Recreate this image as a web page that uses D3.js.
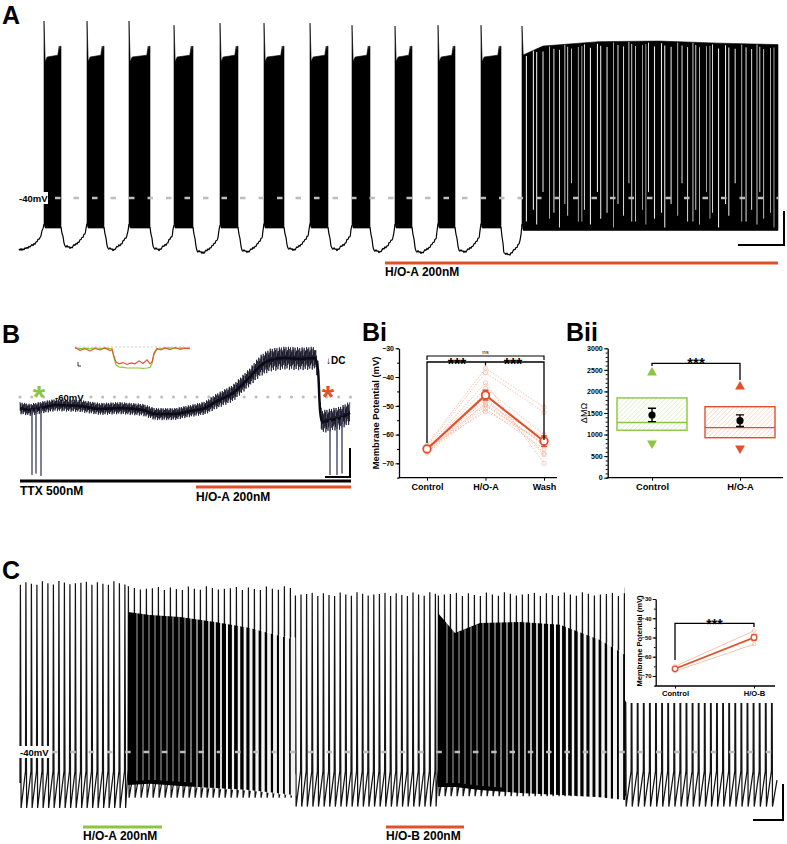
<!DOCTYPE html>
<html>
<head>
<meta charset="utf-8">
<script src="https://cdn.jsdelivr.net/npm/d3@7"></script>
<style>
  body { margin: 0; background: #fff; }
  svg { display: block; }
</style>
</head>
<body>
<svg id="fig" width="787" height="844"></svg>
<script>
// ---------------- data ----------------
// Panel A: bursting then tonic firing (time in s, voltage in mV)
const aBurstOn   = [12.5, 34, 55, 77.5, 100.5, 122.5, 145.5, 166.5, 188, 209.5, 231];
const aBurstOff  = [21, 42.5, 65.5, 87, 109.5, 132.5, 154.5, 175.5, 196.5, 218, 241];
const aBurstPeak = [20, 20, 20, 18.6, 19.3, 19.3, 19.3, 18.6, 18.3, 18.6, 18.6];
const aGapMin    = [-57.6, -56.9, -57.6, -57.6, -58.6, -58.3, -57.6, -57.6, -58.3, -58.6, -58.3, -59.3];
const aTonicT    = [251.5, 262, 290, 320, 350, 379.5];
const aTonicTop  = [7.5, 9.5, 11, 11.2, 10.5, 10];
const aTonicPeak = 18.3;
const aPlateau = 7.8, aEndSpike = 11.5, aTrough = -50.2, aOnsetV = -49, aTonicTrough = -51;

// Panel B: TTX trace
const bT     = [0, 10, 25, 35, 60, 80, 100, 123, 135, 155, 170, 185, 195, 213, 230, 240, 250, 265, 280, 295, 298, 300, 302, 310, 320, 330];
const bV     = [-63.7, -64.3, -63.3, -62.7, -63, -64, -63.7, -64.3, -65.7, -65.7, -64.7, -63.7, -61.7, -58.7, -53.3, -49.7, -47.7, -47, -47.3, -47, -51, -64.3, -68.3, -67.7, -67, -65.3];
const bNoise = [2, 2, 2, 2, 2, 2, 2, 2, 2, 2, 2, 2.2, 2.5, 2.8, 3, 3.5, 3.8, 3.8, 3.8, 3.8, 3, 3, 3.8, 3.8, 3.8, 3.8];
const bSpikeT = [12, 16, 21, 310, 317, 322];
const bSpikeV = [-86, -85.5, -86.3, -86, -86, -85.5];
// Panel B inset (ms, mV relative)
const bInsT     = [0, 5, 10, 15, 20, 25, 30, 35, 37, 39, 41, 44, 48, 52, 56, 60, 64, 68, 72, 75, 77, 79, 82, 86, 90, 95, 100, 105, 110, 115];
const bInsGreen = [-0.3, -0.5, -0.4, -0.6, -0.3, -0.5, -0.4, -0.5, -0.6, -3.5, -6.0, -6.6, -6.8, -7, -7, -7, -7, -7.1, -7, -6.8, -5.5, -2.5, -0.8, -0.5, -0.4, -0.3, -0.5, -0.3, -0.4, -0.3];
const bInsRed   = [-0.2, -1.1, -0.6, -1.3, -0.5, -1.0, -0.3, -1.2, -0.8, -3.2, -5.0, -5.6, -5.2, -5.8, -5.3, -5.6, -4.6, -5.5, -4.3, -5.6, -5.0, -2.0, -0.5, -1.0, -0.3, -0.9, -0.2, -0.8, -0.4, -0.6];

// Panel Bi: membrane potential (mV), one entry per cell
const biCats = ["Control", "H/O-A", "Wash"];
const biControl = [-63.5, -64, -64.5, -65, -65, -65.5, -65.5, -66, -66, -66.5, -64.8, -65.2];
const biHOA     = [-37, -38.5, -42, -44, -45.5, -47, -48, -49, -50, -51, -52, -49.5];
const biWash    = [-50.5, -52.3, -70, -60, -66.5, -67, -64, -61, -63, -65, -62, -63.5];
const biMean = [-65, -46.3, -62.3];
const biSem  = [0.6, 1.7, 1.8];

// Panel Bii: delta input resistance (MOhm)
const biiCats   = ["Control", "H/O-A"];
const biiQ1     = [1100, 927];
const biiQ3     = [1850, 1646];
const biiMedian = [1280, 1160];
const biiMean   = [1454, 1322];
const biiSem    = [155, 135];
const biiMax    = [2435, 2110];
const biiMin    = [797, 681];

// Panel C: tonic firing, segments (time in s, voltage in mV)
const cSegStart = [0, 54, 137.5, 209, 302.5];
const cSegEnd   = [54, 137.5, 209, 302.5, 378.5];
const cSegIsi   = [2.75, 3.0, 2.8, 3.0, 3.05];
const cSegPeak  = [18.3, 16.5, 14.5, 14.5, 17];
const cSegRamp  = [-46.5, -46, -46.5, -46, -46.5];
const cSegTrough = [-59, -55.5, -58.5, -55, -58.5];
// dense firing envelopes (top / bottom in mV, fraction of black between spikes)
const cBand1T    = [54, 65, 80, 97.5, 115, 137.5];
const cBand1Top  = [7.5, 6.4, 5.8, 4.1, 2.0, -2.0];
const cBand1Bot  = [-51.2, -50.8, -51.5, -52.2, -52.9, -54.6];
const cBand1Dens = [1, 1, 1, 0.85, 0.6, 0.35];
const cBand2T    = [209, 217.5, 230, 250, 270, 290, 302.5];
const cBand2Top  = [7.1, 0.3, 3.7, 4.1, 3.1, -2.0, -7.1];
const cBand2Bot  = [-51.9, -51.9, -52.9, -53.9, -54.6, -55.3, -56.3];
const cBand2Dens = [1, 1, 1, 0.9, 0.75, 0.55, 0.35];
// Panel C inset
const ciCats    = ["Control", "H/O-B"];
const ciControl = [-65, -66.5, -67.5];
const ciHOB     = [-46.5, -50.4, -53.5];
const ciMean    = [-66.3, -50];
const ciSem     = [0.6, 1.6];

// ---------------- drawing ----------------
const FONT = "'Liberation Sans', Arial, Helvetica, sans-serif";
const RED = "#e2502b", RED_LT = "#f5b59c", GREEN = "#8cc63f", GREEN_LT = "#c3e19b", GREY = "#bdbdbd";

const svg = d3.select("#fig").attr("font-family", FONT);
const defs = svg.append("defs");

function hatch(id, color) {
  const p = defs.append("pattern").attr("id", id)
    .attr("patternUnits", "userSpaceOnUse")
    .attr("width", 3.2).attr("height", 3.2)
    .attr("patternTransform", "rotate(45)");
  p.append("line").attr("x1", 0).attr("y1", 0).attr("x2", 0).attr("y2", 3.2)
    .attr("stroke", color).attr("stroke-width", 0.8);
}
hatch("hatchG", GREEN_LT);
hatch("hatchR", RED_LT);

function label(g, txt, x, y, size, opts = {}) {
  return g.append("text").attr("x", x).attr("y", y).text(txt)
    .attr("font-size", size).attr("font-weight", opts.weight || "bold")
    .attr("fill", opts.fill || "#000")
    .attr("text-anchor", opts.anchor || "start");
}

function bar(g, x1, x2, y, color) {
  g.append("line").attr("x1", x1).attr("x2", x2).attr("y1", y).attr("y2", y)
    .attr("stroke", color).attr("stroke-width", 3);
}

function scaleBar(g, xl, xr, yt, yb) {
  g.append("path").attr("d", `M${xl},${yb}H${xr}V${yt}`)
    .attr("fill", "none").attr("stroke", "#000").attr("stroke-width", 2);
}

// irregular texture used for recording noise / spike gaps (not data)
const jitter = [1, -0.45, 0.8, -1, 0.25, -0.7, 0.95, -0.2, 0.55, -0.9, 0.7, -0.6, 0.35];

// ====== Panel A ======
const gA = svg.append("g");
const xA = d3.scaleLinear().domain([0, 380]).range([19, 779]);
const yA = d3.scaleLinear().domain([-60, 20]).range([257, 21]);

label(gA, "A", 2, 24, 25);

const smooth = d3.line().x(d => xA(d[0])).y(d => yA(d[1])).curve(d3.curveMonotoneX);
const straightA = d3.line().x(d => xA(d[0])).y(d => yA(d[1]));

const aGaps = [];
const m0 = aGapMin[0];
aGaps.push([[0, m0], [3, m0 + 0.4], [7, m0 + 1.6], [10.5, m0 + 4], [aBurstOn[0], aOnsetV]]);
aBurstOff.forEach((off, i) => {
  const next = i + 1 < aBurstOn.length ? aBurstOn[i + 1] : aTonicT[0];
  const L = next - off, m = aGapMin[i + 1];
  aGaps.push([[off, aTrough], [off + 0.15 * L, m + 0.6], [off + 0.4 * L, m],
              [off + 0.72 * L, m + 2.3], [off + 0.92 * L, m + 4.8], [next, aOnsetV]]);
});
// thin noisy interburst trace
aGaps.forEach(pts => {
  const T = pts.map(p => p[0]), V = pts.map(p => p[1]);
  const f = d3.scaleLinear().domain(T).range(V);
  const ts = d3.range(T[0], T[T.length - 1], 0.5).concat([T[T.length - 1]]);
  const noisy = ts.map((t, k) => [t, f(t) + 0.35 * jitter[k % jitter.length]]);
  gA.append("path").attr("d", smooth(noisy)).attr("fill", "none").attr("stroke", "#000").attr("stroke-width", 1.2);
});

const aBursts = aBurstOn.map((on, i) => {
  const off = aBurstOff[i];
  return [[on, aOnsetV], [on, aBurstPeak[i]], [on + 0.6, aPlateau - 1.5], [on + 1.6, aPlateau],
          [off - 1.6, aPlateau + 0.6], [off - 0.9, aEndSpike], [off - 0.5, aEndSpike - 1.5],
          [off - 0.2, aEndSpike], [off, aEndSpike], [off, aTrough], [on + 0.6, aTrough]];
});
gA.selectAll(".burst").data(aBursts).enter().append("path")
  .attr("d", d => straightA(d) + "Z").attr("fill", "#000").attr("stroke", "#000").attr("stroke-width", 0.6);

// tonic firing block
const aTop = d3.scaleLinear().domain(aTonicT).range(aTonicTop);
const t0 = aTonicT[0], t1 = aTonicT[aTonicT.length - 1];
const tonicPoly = [[t0, aOnsetV], [t0, aTonicPeak], [t0 + 0.6, aTonicTop[0] + 1]]
  .concat(aTonicT.slice(1).map((t, i) => [t, aTonicTop[i + 1] + 2]))
  .concat([[t1, aTonicTrough], [t0 + 0.6, aTonicTrough]]);
gA.append("path").attr("d", straightA(tonicPoly) + "Z").attr("fill", "#000").attr("stroke", "#000").attr("stroke-width", 0.6);

// white gaps between the tonic spikes (irregular texture)
const aLowEnds = [-48, -44, -49, -38, -47, -45, -50, -42, -46, -35, -48];
const aTonicGaps = [];
for (let t = t0 + 2.2, k = 0; t < t1 - 0.8; k++) {
  aTonicGaps.push(t);
  t += 2.4 + 1.1 * jitter[(k * 5) % jitter.length];
}
gA.selectAll(".tgap").data(aTonicGaps).enter().append("line")
  .attr("x1", d => xA(d)).attr("x2", d => xA(d))
  .attr("y1", (d, i) => yA(aTop(d) + 2.2 - 2 * Math.abs(jitter[i % jitter.length])))
  .attr("y2", (d, i) => yA(aLowEnds[i % aLowEnds.length]))
  .attr("stroke", "#fff")
  .attr("stroke-width", (d, i) => 0.6 + 0.5 * Math.abs(jitter[(i * 3) % jitter.length]))
  .attr("opacity", 0.9);

gA.append("line").attr("x1", 55).attr("x2", 778).attr("y1", yA(-40)).attr("y2", yA(-40))
  .attr("stroke", GREY).attr("stroke-width", 2.5).attr("stroke-dasharray", "5.5,13");
gA.append("rect").attr("x", 17).attr("y", yA(-40) - 6).attr("width", 31).attr("height", 12).attr("fill", "#fff");
label(gA, "-40mV", 19, yA(-40) + 3.5, 9.5);

scaleBar(gA, 738, 784, 211, 245);
bar(gA, 385, 778, 263, RED);
label(gA, "H/O-A 200nM", 385, 276, 12);

// ====== Panel B ======
const gB = svg.append("g");
const xB = d3.scaleLinear().domain([0, 330]).range([20, 350]);
const yB = d3.scaleLinear().domain([-90, -40]).range([487, 337]);

label(gB, "B", 2, 343, 25);

gB.append("line").attr("x1", 20).attr("x2", 352).attr("y1", yB(-60)).attr("y2", yB(-60))
  .attr("stroke", GREY).attr("stroke-width", 3).attr("stroke-linecap", "round").attr("stroke-dasharray", "0.1,11.7");
gB.append("rect").attr("x", 53).attr("y", yB(-60) - 6).attr("width", 32).attr("height", 11).attr("fill", "#fff");
label(gB, "-60mV", 55, yB(-60) + 3.5, 9.5);

const bLevel = d3.scaleLinear().domain(bT).range(bV);
const bNz = d3.scaleLinear().domain(bT).range(bNoise);
const bSteps = d3.range(0, 330, 0.35);
let bPath = "";
bSteps.forEach((t, k) => {
  const v = bLevel(t) + bNz(t) * jitter[k % jitter.length];
  bPath += (k ? "L" : "M") + xB(t).toFixed(2) + "," + yB(v).toFixed(2);
});
gB.append("path").attr("d", bPath).attr("fill", "none").attr("stroke", "#16162a").attr("stroke-width", 0.8);
gB.append("path").datum(d3.range(bT.length))
  .attr("d", d3.line().x(i => xB(bT[i])).y(i => yB(bV[i])).curve(d3.curveMonotoneX))
  .attr("fill", "none").attr("stroke", "#0b0b14").attr("stroke-width", 2.5);

gB.selectAll(".bsp").data(bSpikeT).enter().append("path")
  .attr("d", (t, i) => `M${xB(t) - 0.3},${yB(bLevel(t))}L${xB(t)},${yB(bSpikeV[i])}L${xB(t) + 0.3},${yB(bLevel(t))}`)
  .attr("fill", "none").attr("stroke", "#4a4d63").attr("stroke-width", 0.9);

label(gB, "*", 39, 408, 32, { fill: GREEN, anchor: "middle" });
label(gB, "*", 328, 408, 32, { fill: RED, anchor: "middle" });
label(gB, "\u2193DC", 326, 364, 10);

scaleBar(gB, 325, 350, 448, 477);
bar(gB, 20, 351, 481, "#000");
bar(gB, 196, 351, 487, RED);
label(gB, "TTX 500nM", 20, 495, 12);
label(gB, "H/O-A 200nM", 196, 501, 12);

// B inset
const xI = d3.scaleLinear().domain([0, 115]).range([75, 190]);
const yI = d3.scaleLinear().domain([-8, 0]).range([371, 347]);
gB.append("line").attr("x1", 75).attr("x2", 190).attr("y1", yI(0)).attr("y2", yI(0))
  .attr("stroke", "#aaa").attr("stroke-width", 0.6).attr("stroke-dasharray", "2,2");
const insLine = vals => d3.line().x((d, i) => xI(bInsT[i])).y(d => yI(d))(vals);
gB.append("path").attr("d", insLine(bInsGreen)).attr("fill", "none").attr("stroke", GREEN).attr("stroke-width", 1.2);
gB.append("path").attr("d", insLine(bInsRed)).attr("fill", "none").attr("stroke", RED).attr("stroke-width", 1.1);
gB.append("path").attr("d", "M78,362V366H81").attr("fill", "none").attr("stroke", "#000").attr("stroke-width", 0.8);

// ====== Panel Bi ======
const gBi = svg.append("g");
label(gBi, "Bi", 362, 341, 25);
const yBi = d3.scaleLinear().domain([-75, -30]).range([477.7, 348.3]);
const xBi = d3.scalePoint().domain(biCats).range([427, 544]);

function styleAxis(g, fs) {
  g.attr("font-family", FONT).attr("font-size", fs).attr("font-weight", "bold");
  g.select(".domain").attr("stroke-width", 1.3);
  g.selectAll(".tick line").attr("stroke-width", 1);
}

gBi.append("g").attr("transform", "translate(399,0)")
  .call(d3.axisLeft(yBi).tickValues(d3.range(-75, -29, 5)).tickSize(2).tickFormat("").tickSizeOuter(0))
  .call(g => g.select(".domain").remove());
gBi.append("g").attr("transform", "translate(399,0)")
  .call(d3.axisLeft(yBi).tickValues([-70, -60, -50, -40, -30]).tickSize(3.5).tickPadding(1.5).tickSizeOuter(0))
  .call(g => styleAxis(g, 7));
gBi.append("line").attr("x1", 398.5).attr("x2", 557).attr("y1", 477.7).attr("y2", 477.7).attr("stroke", "#000").attr("stroke-width", 1.3);
gBi.append("g").attr("transform", "translate(0,477.7)")
  .call(d3.axisBottom(xBi).tickSize(3).tickPadding(3).tickSizeOuter(0))
  .call(g => { styleAxis(g, 9); g.select(".domain").remove(); });
label(gBi, "Membrane Potential (mV)", 0, 0, 9.4, { anchor: "middle" })
  .attr("transform", "translate(379,413) rotate(-90)");

const biCells = biControl.map((c, i) => [c, biHOA[i], biWash[i]]);
const biLine = d3.line().x((d, i) => xBi(biCats[i])).y(d => yBi(d));
gBi.selectAll(".cell").data(biCells).enter().append("path")
  .attr("d", biLine).attr("fill", "none").attr("stroke", RED_LT).attr("stroke-width", 0.8).attr("stroke-dasharray", "1.6,1.4");
biCells.forEach(cell => {
  gBi.selectAll(null).data(cell).enter().append("circle")
    .attr("cx", (d, i) => xBi(biCats[i])).attr("cy", d => yBi(d)).attr("r", 2.1)
    .attr("fill", "none").attr("stroke", RED_LT).attr("stroke-width", 0.7);
});
gBi.append("path").attr("d", biLine(biMean)).attr("fill", "none").attr("stroke", RED).attr("stroke-width", 2);
biMean.forEach((m, i) => {
  const x = xBi(biCats[i]);
  gBi.append("path").attr("d", `M${x - 3},${yBi(m + biSem[i])}H${x + 3}M${x},${yBi(m + biSem[i])}V${yBi(m - biSem[i])}M${x - 3},${yBi(m - biSem[i])}H${x + 3}`)
    .attr("stroke", RED).attr("stroke-width", 1.4).attr("fill", "none");
  gBi.append("circle").attr("cx", x).attr("cy", yBi(m)).attr("r", 3.8)
    .attr("fill", "#fff").attr("stroke", RED).attr("stroke-width", 1.8);
});
// significance brackets
gBi.append("path").attr("d", "M427,360V356H544V360").attr("fill", "none").attr("stroke", "#000").attr("stroke-width", 1.2);
gBi.append("path").attr("d", "M427,443V362H544V440M485.5,362V365.5").attr("fill", "none").attr("stroke", "#000").attr("stroke-width", 1.3);
label(gBi, "ns", 485.5, 354, 6, { weight: "normal", anchor: "middle" });
label(gBi, "***", 457, 370, 16, { anchor: "middle" });
label(gBi, "***", 513, 370, 16, { anchor: "middle" });

// ====== Panel Bii ======
const gBii = svg.append("g");
label(gBii, "Bii", 566, 341, 25);
const yBii = d3.scaleLinear().domain([0, 3000]).range([477.7, 348.3]);
const xBii = d3.scalePoint().domain(biiCats).range([652, 740]);

gBii.append("g").attr("transform", "translate(607.7,0)")
  .call(d3.axisLeft(yBii).tickValues(d3.range(0, 3001, 100)).tickSize(2).tickFormat("").tickSizeOuter(0))
  .call(g => g.select(".domain").remove());
gBii.append("g").attr("transform", "translate(607.7,0)")
  .call(d3.axisLeft(yBii).tickValues(d3.range(0, 3001, 500)).tickFormat(d3.format("d")).tickSize(3.5).tickPadding(1.5).tickSizeOuter(0))
  .call(g => styleAxis(g, 7));
gBii.append("line").attr("x1", 607.2).attr("x2", 783).attr("y1", 477.7).attr("y2", 477.7).attr("stroke", "#000").attr("stroke-width", 1.3);
gBii.append("g").attr("transform", "translate(0,477.7)")
  .call(d3.axisBottom(xBii).tickSize(3).tickPadding(3).tickSizeOuter(0))
  .call(g => { styleAxis(g, 9.3); g.select(".domain").remove(); });
label(gBii, "\u0394M\u03A9", 0, 0, 9, { weight: "normal", anchor: "middle" })
  .attr("transform", "translate(587,413) rotate(-90)");

const biiColor = [GREEN, RED], biiHatch = ["url(#hatchG)", "url(#hatchR)"];
biiCats.forEach((c, i) => {
  const x = xBii(c), w = 70;
  gBii.append("rect").attr("x", x - w / 2).attr("y", yBii(biiQ3[i]))
    .attr("width", w).attr("height", yBii(biiQ1[i]) - yBii(biiQ3[i]))
    .attr("fill", biiHatch[i]).attr("stroke", biiColor[i]).attr("stroke-width", 1.4);
  gBii.append("line").attr("x1", x - w / 2).attr("x2", x + w / 2)
    .attr("y1", yBii(biiMedian[i])).attr("y2", yBii(biiMedian[i]))
    .attr("stroke", biiColor[i]).attr("stroke-width", 1.4);
  gBii.append("path").attr("transform", `translate(${x},${yBii(biiMax[i])})`)
    .attr("d", d3.symbol(d3.symbolTriangle).size(42)()).attr("fill", biiColor[i]);
  gBii.append("path").attr("transform", `translate(${x},${yBii(biiMin[i])}) rotate(180)`)
    .attr("d", d3.symbol(d3.symbolTriangle).size(42)()).attr("fill", biiColor[i]);
  const hi = yBii(biiMean[i] + biiSem[i]), lo = yBii(biiMean[i] - biiSem[i]);
  gBii.append("path").attr("d", `M${x - 4},${hi}H${x + 4}M${x},${hi}V${lo}M${x - 4},${lo}H${x + 4}`)
    .attr("stroke", "#000").attr("stroke-width", 1.4).attr("fill", "none");
  gBii.append("circle").attr("cx", x).attr("cy", yBii(biiMean[i])).attr("r", 3.6).attr("fill", "#000");
});
gBii.append("path").attr("d", "M652,366V363.3H740V380").attr("fill", "none").attr("stroke", "#000").attr("stroke-width", 1.3);
label(gBii, "***", 696, 368, 15, { anchor: "middle" });

// ====== Panel C ======
const gC = svg.append("g");
label(gC, "C", 2, 579, 25);
const xC = d3.scaleLinear().domain([0, 378.5]).range([20, 777]);
const yC = d3.scaleLinear().domain([-60, 20]).range([811, 575]);

const cSpikes = [];
cSegStart.forEach((s, i) => {
  for (let t = s; t < cSegEnd[i] - 0.3; t += cSegIsi[i]) cSpikes.push({ t, seg: i });
});
let cPath = `M${xC(0)},${yC(cSegRamp[0] - 4)}`;
cSpikes.forEach((sp, k) => {
  const i = sp.seg;
  const pk = cSegPeak[i] - 1.6 * Math.abs(jitter[k % jitter.length]);
  cPath += `L${xC(sp.t)},${yC(cSegRamp[i])}L${xC(sp.t + 0.2)},${yC(pk)}L${xC(sp.t + 0.55)},${yC(cSegTrough[i])}`;
});
cPath += `L${xC(378.5)},${yC(cSegRamp[4] - 3)}`;
gC.append("path").attr("d", cPath).attr("fill", "none").attr("stroke", "#141414").attr("stroke-width", 1.25);

function denseBand(T, top, bot, dens) {
  const topS = d3.scaleLinear().domain(T).range(top);
  const botS = d3.scaleLinear().domain(T).range(bot);
  const densS = d3.scaleLinear().domain(T).range(dens);
  const idx = d3.range(T.length);
  gC.append("path").datum(idx)
    .attr("d", d3.area().x(i => xC(T[i])).y0(i => yC(bot[i])).y1(i => yC(top[i])))
    .attr("fill", "#000");
  const inside = cSpikes.filter(s => s.t > T[0] + 0.5 && s.t < T[T.length - 1] - 0.5);
  gC.selectAll(null).data(inside).enter().append("line")
    .attr("x1", s => xC(s.t + 1.5)).attr("x2", s => xC(s.t + 1.5))
    .attr("y1", s => yC(topS(s.t)) - 1)
    .attr("y2", s => densS(s.t) > 0.95 ? yC(botS(s.t)) - 4 : yC(botS(s.t)) + 1)
    .attr("stroke", "#fff")
    .attr("stroke-width", s => 0.7 + (1 - densS(s.t)) * (xC(cSegIsi[s.seg]) - xC(0)))
    .attr("opacity", 0.95);
}
denseBand(cBand1T, cBand1Top, cBand1Bot, cBand1Dens);
denseBand(cBand2T, cBand2Top, cBand2Bot, cBand2Dens);

gC.append("line").attr("x1", 52).attr("x2", 778).attr("y1", yC(-40)).attr("y2", yC(-40))
  .attr("stroke", GREY).attr("stroke-width", 2.5).attr("stroke-dasharray", "5.5,12.8");
gC.append("rect").attr("x", 18).attr("y", yC(-40) - 6).attr("width", 31).attr("height", 12).attr("fill", "#fff");
label(gC, "-40mV", 20, yC(-40) + 3.5, 9.5);

scaleBar(gC, 753, 783, 784, 820);
bar(gC, 83, 162, 827, GREEN);
bar(gC, 386, 464, 827, RED);
label(gC, "H/O-A 200nM", 83, 840, 12);
label(gC, "H/O-B 200nM", 386, 840, 12);

// C inset
const gCi = svg.append("g");
gCi.append("path").attr("d", "M625,570V699Q625,703 629,703H787V570Z").attr("fill", "#fff");
const yCi = d3.scaleLinear().domain([-75, -30]).range([685.6, 599]);
const xCi = d3.scalePoint().domain(ciCats).range([675, 754]);
gCi.append("g").attr("transform", "translate(655.7,0)")
  .call(d3.axisLeft(yCi).tickValues(d3.range(-75, -29, 5)).tickSize(1.8).tickFormat("").tickSizeOuter(0))
  .call(g => g.select(".domain").remove());
gCi.append("g").attr("transform", "translate(655.7,0)")
  .call(d3.axisLeft(yCi).tickValues([-70, -60, -50, -40, -30]).tickSize(3).tickPadding(1).tickSizeOuter(0))
  .call(g => styleAxis(g, 6));
gCi.append("line").attr("x1", 655.2).attr("x2", 775).attr("y1", 686).attr("y2", 686).attr("stroke", "#000").attr("stroke-width", 1.3);
gCi.append("g").attr("transform", "translate(0,686)")
  .call(d3.axisBottom(xCi).tickSize(2.5).tickPadding(2).tickSizeOuter(0))
  .call(g => { styleAxis(g, 7.6); g.select(".domain").remove(); });
label(gCi, "Membrane Potential (mV)", 0, 0, 7.6, { anchor: "middle" })
  .attr("transform", "translate(642,641) rotate(-90)");

const ciCells = ciControl.map((c, i) => [c, ciHOB[i]]);
const ciLine = d3.line().x((d, i) => xCi(ciCats[i])).y(d => yCi(d));
gCi.selectAll(".cell").data(ciCells).enter().append("path")
  .attr("d", ciLine).attr("fill", "none").attr("stroke", RED_LT).attr("stroke-width", 0.8);
ciCells.forEach(cell => {
  gCi.selectAll(null).data(cell).enter().append("circle")
    .attr("cx", (d, i) => xCi(ciCats[i])).attr("cy", d => yCi(d)).attr("r", 1.8)
    .attr("fill", "none").attr("stroke", RED_LT).attr("stroke-width", 0.7);
});
gCi.append("path").attr("d", ciLine(ciMean)).attr("fill", "none").attr("stroke", RED).attr("stroke-width", 1.6);
ciMean.forEach((m, i) => {
  const x = xCi(ciCats[i]);
  gCi.append("path").attr("d", `M${x - 2.5},${yCi(m + ciSem[i])}H${x + 2.5}M${x},${yCi(m + ciSem[i])}V${yCi(m - ciSem[i])}M${x - 2.5},${yCi(m - ciSem[i])}H${x + 2.5}`)
    .attr("stroke", RED).attr("stroke-width", 1.2).attr("fill", "none");
  gCi.append("circle").attr("cx", x).attr("cy", yCi(m)).attr("r", 2.8)
    .attr("fill", "#fff").attr("stroke", RED).attr("stroke-width", 1.3);
});
gCi.append("path").attr("d", "M675,660V623.3H754V627").attr("fill", "none").attr("stroke", "#000").attr("stroke-width", 1.3);
label(gCi, "***", 714.5, 629, 14, { anchor: "middle" });
</script>
</body>
</html>
